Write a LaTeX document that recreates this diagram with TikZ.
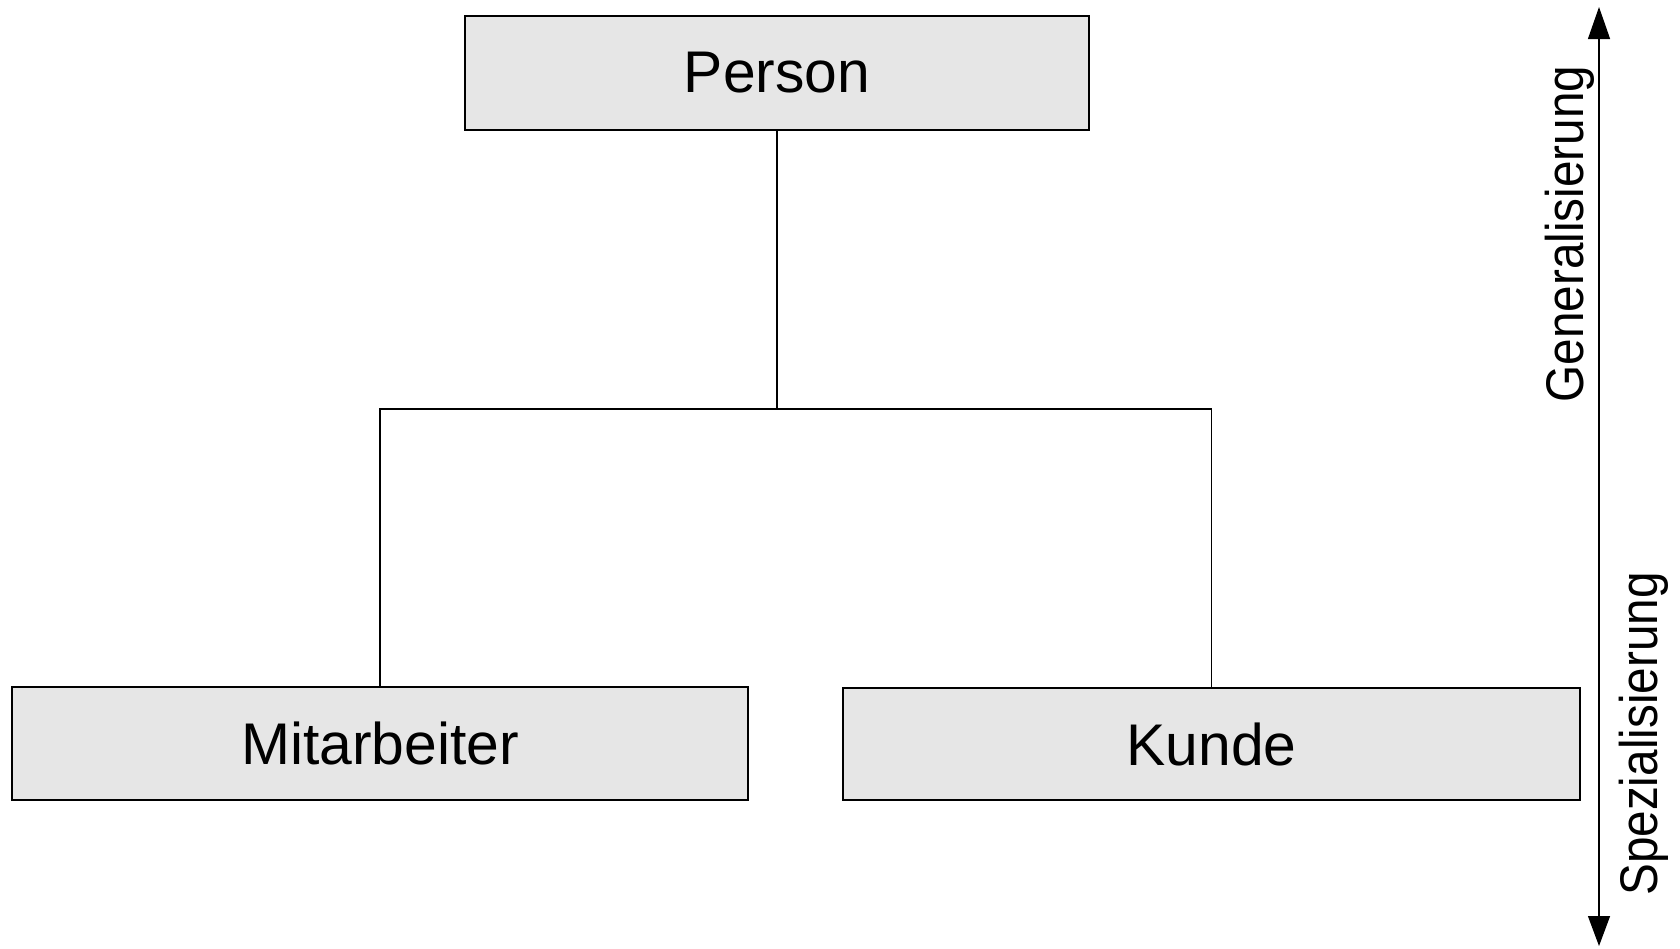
\documentclass[tikz,border=0pt]{standalone}
\usepackage{fontspec}
\setmainfont{Liberation Sans}
\usetikzlibrary{arrows.meta}
\definecolor{boxgray}{HTML}{E6E6E6}
\begin{document}
\begin{tikzpicture}[x=0.5pt,y=-0.5pt,
  classbox/.style={draw=black,fill=boxgray,line width=0.6pt,rectangle,inner sep=0pt,
    font=\fontsize{29.4pt}{35pt}\selectfont},
  link/.style={draw=black,line width=0.6pt},
  sidelabel/.style={rotate=90,inner sep=0pt,anchor=base,
    font=\fontsize{26.5pt}{32pt}\selectfont}]
\useasboundingbox (0,0) rectangle (1680,948);
\node[classbox,minimum width=312pt,minimum height=57pt] (P) at (777,73) {Person};
\node[classbox,minimum width=368pt,minimum height=56.5pt] (M) at (380,743.5) {Mitarbeiter};
\node[classbox,minimum width=368.5pt,minimum height=56pt] (K) at (1211.5,744) {Kunde};
\coordinate (j) at (777,409);
\draw[link] (P.south) -- (j);
\draw[link] (M.north) |- (j) -| (K.north);
\coordinate (atop) at (1599,7);
\coordinate (abot) at (1599,946);
\draw[line width=0.6pt,{Triangle[length=16pt,width=11pt]}-{Triangle[length=15pt,width=11pt]}] (atop) -- (abot);
\node[sidelabel] (gen) at (1583,234) {\scalebox{0.9}[1]{Generalisierung}};
\node[sidelabel] (spe) at (1657,734) {\scalebox{0.9}[1]{Spezialisierung}};
\end{tikzpicture}
\end{document}
